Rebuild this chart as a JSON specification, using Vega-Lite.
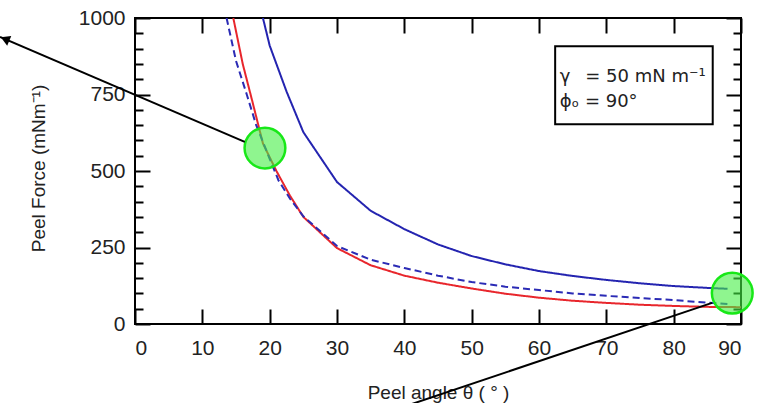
{
  "$schema": "https://vega.github.io/schema/vega-lite/v6.json",
  "width": 606,
  "height": 306,
  "autosize": {"type": "none"},
  "padding": {"left": 135, "top": 18, "right": 20, "bottom": 79},
  "background": "white",
  "config": {
    "view": {"stroke": "black", "strokeWidth": 2},
    "axis": {
      "domain": false,
      "grid": false,
      "tickColor": "black",
      "tickWidth": 2,
      "labelFont": "Liberation Sans",
      "labelFontSize": 21,
      "labelColor": "#222",
      "titleFont": "Liberation Sans",
      "titleFontSize": 19,
      "titleFontWeight": "normal",
      "titleColor": "#222"
    }
  },
  "datasets": {
    "curves": [
      {"theta": 14.6, "force": 1000, "series": "red"},
      {"theta": 16, "force": 850, "series": "red"},
      {"theta": 17.4, "force": 730, "series": "red"},
      {"theta": 19, "force": 590, "series": "red"},
      {"theta": 21, "force": 500, "series": "red"},
      {"theta": 23, "force": 420, "series": "red"},
      {"theta": 25, "force": 350, "series": "red"},
      {"theta": 30, "force": 248, "series": "red"},
      {"theta": 35, "force": 192, "series": "red"},
      {"theta": 40, "force": 158, "series": "red"},
      {"theta": 45, "force": 135, "series": "red"},
      {"theta": 50, "force": 116, "series": "red"},
      {"theta": 55, "force": 99, "series": "red"},
      {"theta": 60, "force": 86, "series": "red"},
      {"theta": 65, "force": 76, "series": "red"},
      {"theta": 70, "force": 69, "series": "red"},
      {"theta": 75, "force": 63, "series": "red"},
      {"theta": 80, "force": 59, "series": "red"},
      {"theta": 85, "force": 56, "series": "red"},
      {"theta": 90, "force": 55, "series": "red"},
      {"theta": 13.6, "force": 1000, "series": "dash"},
      {"theta": 15, "force": 860, "series": "dash"},
      {"theta": 16.6, "force": 750, "series": "dash"},
      {"theta": 18, "force": 650, "series": "dash"},
      {"theta": 20, "force": 540, "series": "dash"},
      {"theta": 21.3, "force": 470, "series": "dash"},
      {"theta": 23, "force": 410, "series": "dash"},
      {"theta": 25, "force": 352, "series": "dash"},
      {"theta": 30, "force": 255, "series": "dash"},
      {"theta": 35, "force": 210, "series": "dash"},
      {"theta": 40, "force": 183, "series": "dash"},
      {"theta": 45, "force": 158, "series": "dash"},
      {"theta": 50, "force": 137, "series": "dash"},
      {"theta": 55, "force": 122, "series": "dash"},
      {"theta": 60, "force": 111, "series": "dash"},
      {"theta": 65, "force": 100, "series": "dash"},
      {"theta": 70, "force": 92, "series": "dash"},
      {"theta": 75, "force": 85, "series": "dash"},
      {"theta": 80, "force": 78, "series": "dash"},
      {"theta": 85, "force": 70, "series": "dash"},
      {"theta": 88, "force": 65, "series": "dash"},
      {"theta": 19, "force": 1000, "series": "blue"},
      {"theta": 20, "force": 910, "series": "blue"},
      {"theta": 22.5, "force": 760, "series": "blue"},
      {"theta": 25, "force": 627, "series": "blue"},
      {"theta": 30, "force": 464, "series": "blue"},
      {"theta": 35, "force": 370, "series": "blue"},
      {"theta": 40, "force": 310, "series": "blue"},
      {"theta": 45, "force": 260, "series": "blue"},
      {"theta": 50, "force": 222, "series": "blue"},
      {"theta": 55, "force": 195, "series": "blue"},
      {"theta": 60, "force": 173, "series": "blue"},
      {"theta": 65, "force": 157, "series": "blue"},
      {"theta": 70, "force": 144, "series": "blue"},
      {"theta": 75, "force": 133, "series": "blue"},
      {"theta": 80, "force": 124, "series": "blue"},
      {"theta": 85, "force": 118, "series": "blue"},
      {"theta": 88, "force": 115, "series": "blue"}
    ],
    "circles": [
      {"theta": 19.3, "force": 575},
      {"theta": 88.7, "force": 101}
    ],
    "arrows": [
      {"theta": 16.3, "force": 595, "theta2": -20.05, "force2": 938},
      {"theta": 85.7, "force": 69, "theta2": 29.7, "force2": -346}
    ],
    "heads": [
      {"theta": -19.3, "force": 931}
    ],
    "box": [
      {"x1": 62.4, "x2": 85.8, "y1": 908, "y2": 653}
    ],
    "labels": [
      {"theta": 63.1, "force": 807, "text": "γ\u2002 = 50 mN m⁻¹"},
      {"theta": 63.1, "force": 725, "text": "ϕₒ = 90°"}
    ]
  },
  "layer": [
    {
      "data": {"name": "curves"},
      "mark": {"type": "line", "strokeWidth": 2, "clip": true},
      "encoding": {
        "x": {
          "field": "theta", "type": "quantitative",
          "scale": {"domain": [0, 90], "nice": false, "zero": false},
          "axis": {
            "orient": "bottom",
            "values": [0, 10, 20, 30, 40, 50, 60, 70, 80, 90],
            "format": "d",
            "tickSize": -15,
            "labelPadding": 28,
            "title": "Peel angle θ ( ° )",
            "titleX": 303,
            "titleY": 68,
            "titleBaseline": "middle"
          }
        },
        "y": {
          "field": "force", "type": "quantitative",
          "scale": {"domain": [0, 1000], "nice": false, "zero": false},
          "axis": {
            "orient": "left",
            "values": [0, 50, 100, 150, 200, 250, 300, 350, 400, 450, 500, 550, 600, 650, 700, 750, 800, 850, 900, 950, 1000],
            "format": "d",
            "labelExpr": "datum.value % 250 === 0 ? datum.label : ''",
            "tickSize": {"condition": {"test": "datum.value % 250 === 0", "value": -15}, "value": -8},
            "labelPadding": 25,
            "title": "Peel Force (mNm⁻¹)",
            "titleX": -97,
            "titleY": 150,
            "titleAngle": -90,
            "titleBaseline": "middle",
            "titleAlign": "center"
          }
        },
        "color": {
          "field": "series", "type": "nominal",
          "scale": {"domain": ["red", "dash", "blue"], "range": ["#e8262c", "#2b2bb5", "#2424b0"]},
          "legend": null
        },
        "strokeDash": {
          "field": "series", "type": "nominal",
          "scale": {"domain": ["red", "dash", "blue"], "range": [[1, 0], [7, 4], [1, 0]]},
          "legend": null
        }
      }
    },
    {
      "data": {"name": "circles"},
      "mark": {"type": "point", "filled": true, "shape": "circle", "size": 1660, "fill": "#44ee44", "fillOpacity": 0.6, "stroke": "#18e818", "strokeWidth": 2.5, "strokeOpacity": 1, "clip": false},
      "encoding": {
        "x": {
          "field": "theta", "type": "quantitative",
          "axis": {"orient": "top", "values": [0, 10, 20, 30, 40, 50, 60, 70, 80, 90], "labels": false, "tickSize": -15, "title": null}
        },
        "y": {
          "field": "force", "type": "quantitative",
          "axis": {
            "orient": "right",
            "values": [0, 50, 100, 150, 200, 250, 300, 350, 400, 450, 500, 550, 600, 650, 700, 750, 800, 850, 900, 950, 1000],
            "labels": false,
            "tickSize": {"condition": {"test": "datum.value % 250 === 0", "value": -15}, "value": -8},
            "title": null
          }
        }
      }
    },
    {
      "data": {"name": "arrows"},
      "mark": {"type": "rule", "color": "black", "strokeWidth": 2, "clip": false},
      "encoding": {
        "x": {"field": "theta", "type": "quantitative", "axis": null},
        "y": {"field": "force", "type": "quantitative", "axis": null},
        "x2": {"field": "theta2"},
        "y2": {"field": "force2"}
      }
    },
    {
      "data": {"name": "heads"},
      "mark": {"type": "point", "shape": "triangle-up", "filled": true, "color": "black", "size": 110, "angle": 293, "opacity": 1, "clip": false},
      "encoding": {
        "x": {"field": "theta", "type": "quantitative", "axis": null},
        "y": {"field": "force", "type": "quantitative", "axis": null}
      }
    },
    {
      "data": {"name": "box"},
      "mark": {"type": "rect", "fill": "white", "stroke": "black", "strokeWidth": 2},
      "encoding": {
        "x": {"field": "x1", "type": "quantitative", "axis": null},
        "x2": {"field": "x2"},
        "y": {"field": "y1", "type": "quantitative", "axis": null},
        "y2": {"field": "y2"}
      }
    },
    {
      "data": {"name": "labels"},
      "mark": {"type": "text", "align": "left", "baseline": "middle", "font": "DejaVu Sans", "fontSize": 18, "color": "#222"},
      "encoding": {
        "x": {"field": "theta", "type": "quantitative", "axis": null},
        "y": {"field": "force", "type": "quantitative", "axis": null},
        "text": {"field": "text"}
      }
    }
  ],
  "resolve": {"axis": {"x": "independent", "y": "independent"}}
}
